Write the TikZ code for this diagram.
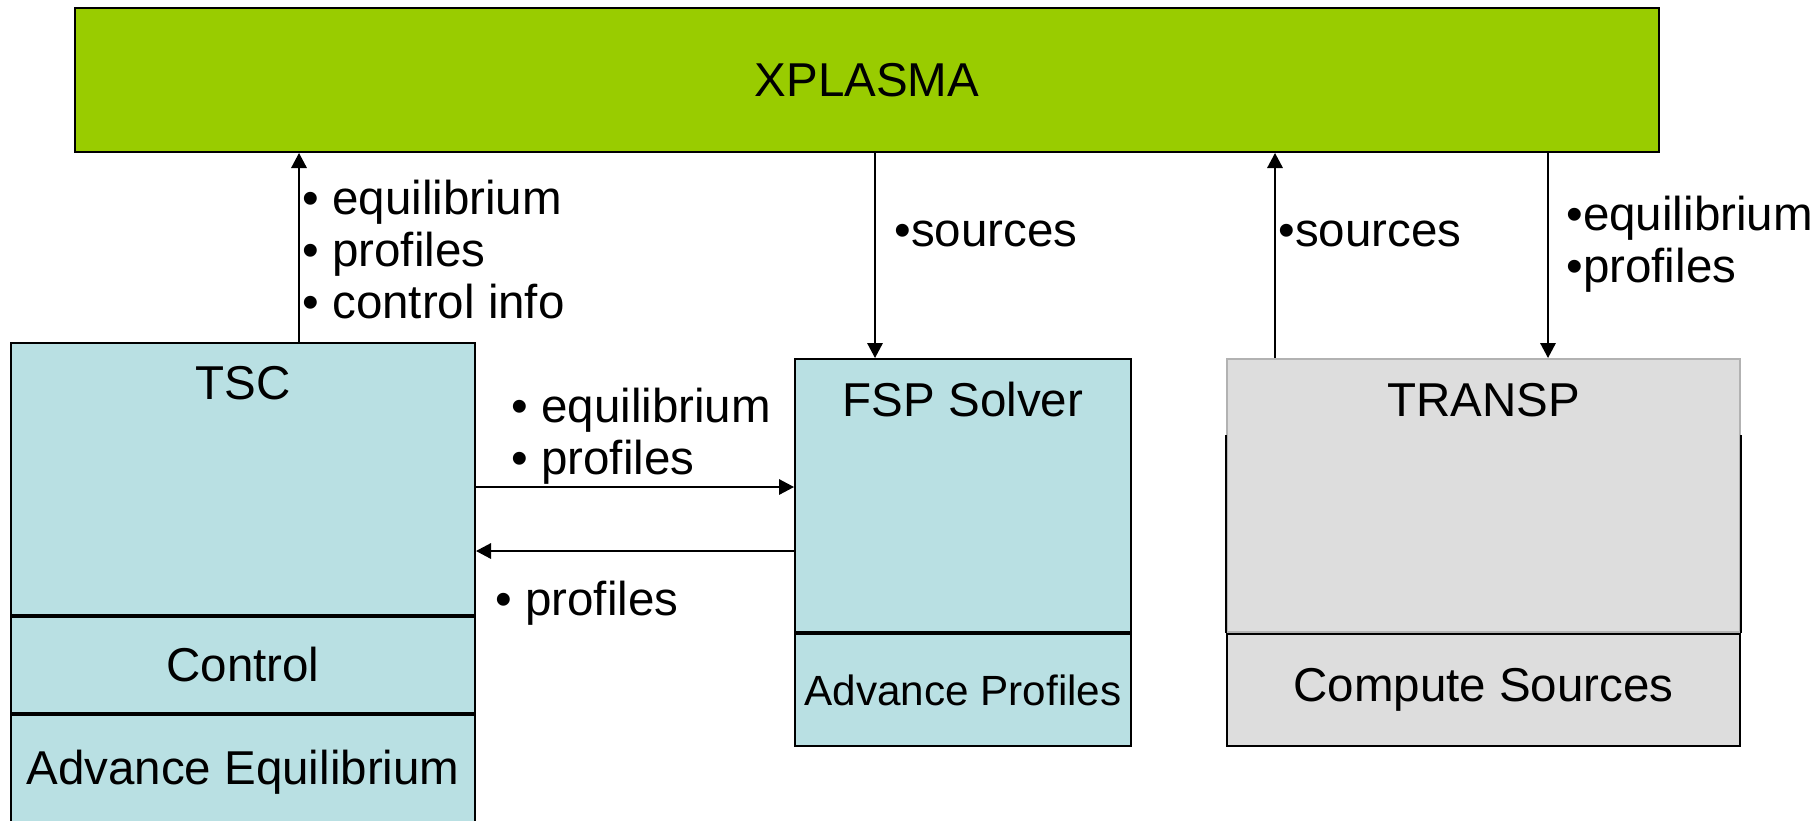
\documentclass[tikz,border=0pt]{standalone}
\usepackage{fontspec}
\setmainfont{Liberation Sans}
\usetikzlibrary{arrows.meta}
\usetikzlibrary{calc}
\definecolor{xgreen}{HTML}{99CC00}
\definecolor{xblue}{HTML}{B9E0E3}
\definecolor{xgray}{HTML}{DDDDDD}
\tikzset{
	BX/.style={draw=black,line width=0.8pt,inner sep=0pt,minimum width=#1}
}
\tikzset{
	AR/.style={-{Triangle[length=6pt,width=6.2pt]},line width=0.65pt},
	LB/.style={align=left,inner sep=0pt,anchor=west}
}

\begin{document}
\begin{tikzpicture}[x=0.4pt,y=-0.4pt,every node/.style={font=\fontsize{19}{20.8}\selectfont}]
	\useasboundingbox (0,0) rectangle (1818,820);
	% boxes
	\node[BX=633.6pt,fill=xgreen,minimum height=57.6pt,anchor=north west] (X) at (74,7) {XPLASMA};
	\node[BX=185.6pt,fill=xblue,minimum height=108.8pt,anchor=north west] (T) at (10,342) {};
	\node[BX=185.6pt,fill=xblue,minimum height=38.4pt,anchor=north] (T-2) at (T.south) {\raisebox{-1.5pt}{Control}};
	\node[BX=185.6pt,fill=xblue,minimum height=45.6pt,anchor=north] (T-3) at (T-2.south) {Advance Equilibrium};
	\node at ([yshift=-16.4pt]T.north) (T-1) {TSC};
	\node[BX=134.4pt,fill=xblue,minimum height=109.2pt,anchor=north west] (F) at (794,358) {};
	\node[BX=134.4pt,fill=xblue,minimum height=44.8pt,anchor=north,font=\fontsize{16.9}{20}\selectfont] (F-2) at (F.south) {Advance Profiles};
	\node at ([yshift=-16.8pt]F.north) (F-1) {FSP Solver};
	\node[BX=205.2pt,fill=xgray,draw=gray!60,minimum height=109.2pt,anchor=north west] (P) at (1226,358) {};
	\draw[line width=0.8pt] ([yshift=-30.8pt]P.north west) -- (P.south west);
	\draw[line width=0.8pt] ([yshift=-30.8pt]P.north east) -- (P.south east);
	\node[BX=205.2pt,fill=xgray,minimum height=44.8pt,anchor=north] (P-2) at (P.south) {\raisebox{-1pt}{Compute Sources}};
	\node at ([yshift=-16.8pt]P.north) (P-1) {TRANSP};
	% connectors
	\draw[AR] ([xshift=22.4pt]T.north) -- ([xshift=22.4pt]T.north |- X.south);
	\draw[AR] ([xshift=-35.2pt]F.north |- X.south) -- ([xshift=-35.2pt]F.north);
	\draw[AR] ([xshift=-83.4pt]P.north) -- ([xshift=-83.4pt]P.north |- X.south);
	\draw[AR] ([xshift=25.8pt]P.north |- X.south) -- ([xshift=25.8pt]P.north);
	\draw[AR] ([yshift=-3.2pt]T.east) -- ([yshift=-3.2pt]T.east -| F.west);
	\draw[AR] ([yshift=-22.2pt]F.west) -- ([yshift=-22.2pt]F.west -| T.east);
	% labels
	\node[LB] (L1) at (302,250) {\textbullet\ equilibrium\\\textbullet\ profiles\\\textbullet\ control info};
	\node[LB] (L2) at (894,234) {\textbullet sources};
	\node[LB] (L3) at (1278,234) {\textbullet sources};
	\node[LB] (L4) at (1566,244) {\textbullet equilibrium\\\textbullet profiles};
	\node[LB] (L5) at (511,436) {\textbullet\ equilibrium\\\textbullet\ profiles};
	\node[LB] (L6) at (495,603) {\textbullet\ profiles};
\end{tikzpicture}
\end{document}
